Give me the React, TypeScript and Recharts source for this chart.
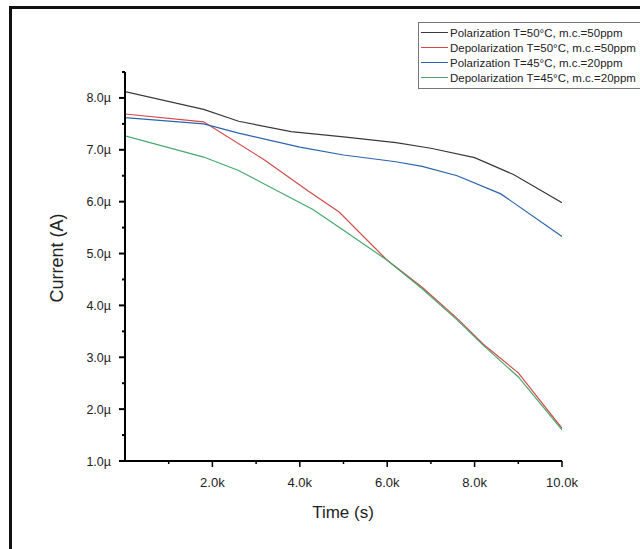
import React from "react";
import { LineChart, Line, XAxis, YAxis } from "recharts";

// time (s) and current (µA) per series
const T_POL_50 = [0, 1800, 2600, 3800, 5000, 6200, 7000, 8000, 8900, 10000];
const I_POL_50 = [8.12, 7.78, 7.55, 7.35, 7.25, 7.14, 7.03, 6.85, 6.52, 5.98];

const T_DEP_50 = [0, 1800, 3200, 4200, 4900, 6000, 6800, 7600, 8200, 9000, 10000];
const I_DEP_50 = [7.69, 7.54, 6.8, 6.2, 5.8, 4.87, 4.35, 3.75, 3.25, 2.7, 1.63];

const T_POL_45 = [0, 1800, 2600, 4000, 5000, 6200, 6800, 7600, 8600, 10000];
const I_POL_45 = [7.62, 7.5, 7.32, 7.05, 6.9, 6.77, 6.68, 6.5, 6.15, 5.33];

const T_DEP_45 = [0, 1800, 2600, 4300, 5000, 6000, 6800, 7600, 8200, 9000, 10000];
const I_DEP_45 = [7.27, 6.86, 6.6, 5.85, 5.45, 4.87, 4.32, 3.72, 3.23, 2.62, 1.6];

const Y_TICKS = [1, 1.5, 2, 2.5, 3, 3.5, 4, 4.5, 5, 5.5, 6, 6.5, 7, 7.5, 8, 8.5];
const X_TICKS = [1000, 2000, 3000, 4000, 5000, 6000, 7000, 8000, 9000, 10000];

const SERIES = [
  { name: "Polarization T=50°C, m.c.=50ppm", t: T_POL_50, i: I_POL_50, color: "#3a3a3a" },
  { name: "Depolarization T=50°C, m.c.=50ppm", t: T_DEP_50, i: I_DEP_50, color: "#d24a48" },
  { name: "Polarization T=45°C, m.c.=20ppm", t: T_POL_45, i: I_POL_45, color: "#2a64ae" },
  { name: "Depolarization T=45°C, m.c.=20ppm", t: T_DEP_45, i: I_DEP_45, color: "#45a86c" },
];

const FONT = '"Liberation Sans", Arial, sans-serif';
const PLOT_LEFT = 125;
const PLOT_BOTTOM = 461;

const YTick = (props: any) => {
  const { y, payload } = props;
  const major = Number.isInteger(payload.value);
  return (
    <g>
      <line x1={PLOT_LEFT - (major ? 6 : 3)} x2={PLOT_LEFT} y1={y} y2={y} stroke="#000" strokeWidth={2} />
      {major && (
        <text x={PLOT_LEFT - 14} y={y} dy={4.5} textAnchor="end" fontSize={12.5} fill="#222" fontFamily={FONT}>
          {payload.value.toFixed(1)}µ
        </text>
      )}
    </g>
  );
};

const XTick = (props: any) => {
  const { x, payload } = props;
  const major = payload.value % 2000 === 0;
  return (
    <g>
      <line x1={x} x2={x} y1={PLOT_BOTTOM} y2={PLOT_BOTTOM + (major ? 6 : 3)} stroke="#000" strokeWidth={1.5} />
      {major && (
        <text x={x} y={PLOT_BOTTOM + 26} textAnchor="middle" fontSize={13} fill="#222" fontFamily={FONT}>
          {(payload.value / 1000).toFixed(1)}k
        </text>
      )}
    </g>
  );
};

export default function App() {
  return (
    <div style={{ position: "absolute", left: 0, top: 0, width: 640, height: 549, background: "#fff" }}>
      <div style={{ position: "absolute", left: 9, top: 6, width: 631, height: 3, background: "#111" }} />
      <div style={{ position: "absolute", left: 9, top: 6, width: 3, height: 543, background: "#111" }} />
      <LineChart width={640} height={549} margin={{ top: 72, right: 78, bottom: 48, left: 65 }}>
        <XAxis
          type="number"
          dataKey="t"
          domain={[0, 10000]}
          ticks={X_TICKS}
          tick={<XTick />}
          tickLine={false}
          axisLine={{ stroke: "#000", strokeWidth: 2 }}
          height={40}
          allowDataOverflow
        />
        <YAxis
          type="number"
          domain={[1, 8.5]}
          ticks={Y_TICKS}
          tick={<YTick />}
          tickLine={false}
          axisLine={{ stroke: "#000", strokeWidth: 2 }}
          width={60}
          interval={0}
          label={() => (
            <text x={63} y={258} transform="rotate(-90 63 258)" textAnchor="middle" fontSize={18} fill="#222" fontFamily={FONT}>
              Current (A)
            </text>
          )}
        />
        {SERIES.map(s => (
          <Line
            key={s.name}
            name={s.name}
            data={s.t.map((t, k) => ({ t, v: s.i[k] }))}
            dataKey="v"
            stroke={s.color}
            strokeWidth={1.2}
            dot={false}
            isAnimationActive={false}
          />
        ))}
        <text x={343} y={518} textAnchor="middle" fontSize={17} fill="#222" fontFamily={FONT}>
          Time (s)
        </text>
      </LineChart>
      <div style={{ position: "absolute", left: 418, top: 22, width: 222, border: "1px solid #777", borderRight: "none", background: "#fff", padding: "2px 0 3px 2px", fontFamily: FONT, fontSize: 11.5, color: "#222", boxSizing: "border-box" }}>
        {SERIES.map(s => (
          <div key={s.name} style={{ display: "flex", alignItems: "center", height: 15, whiteSpace: "nowrap" }}>
            <div style={{ width: 27, height: 0, borderTop: `1.5px solid ${s.color}`, marginRight: 2 }} />
            <span>{s.name}</span>
          </div>
        ))}
      </div>
    </div>
  );
}
